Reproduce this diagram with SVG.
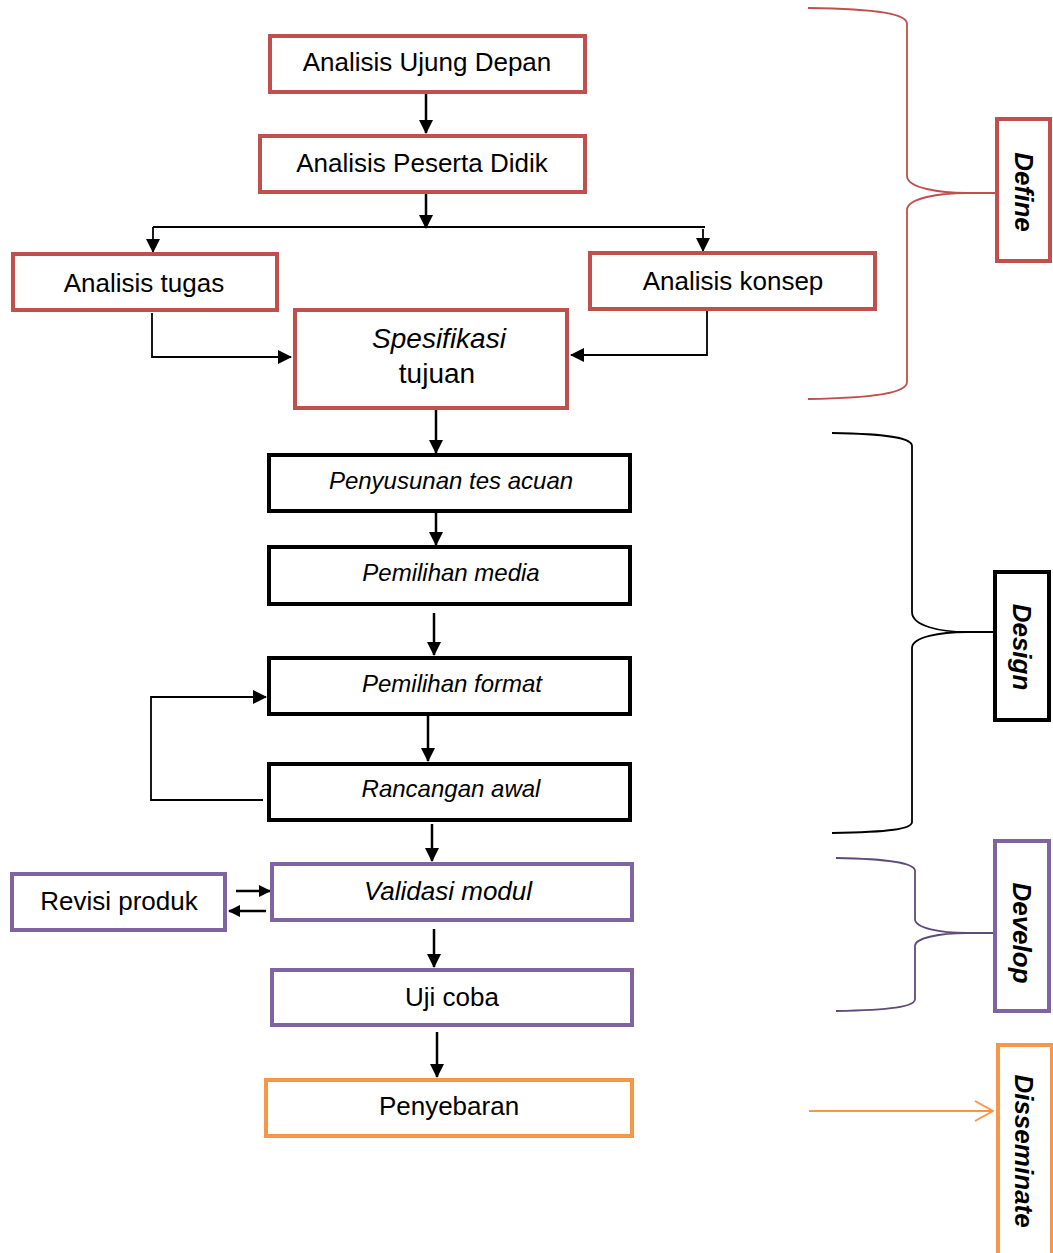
<svg xmlns="http://www.w3.org/2000/svg" width="1053" height="1253" viewBox="0 0 1053 1253">
<defs>
<style>
.box{fill:#fff;stroke-width:4}
.red{stroke:#C0504D}
.blk{stroke:#000}
.pur{stroke:#8064A2}
.org{stroke:#F79646}
.t{font-family:"Liberation Sans",Arial,sans-serif;fill:#000;text-anchor:middle}
.r25{font-size:26px}
.i23{font-size:24px;font-style:italic}
.i25{font-size:26px;font-style:italic}
.side{font-size:26px;font-weight:bold;font-style:italic}
.ln{fill:none;stroke:#000;stroke-width:2.5}
.thin{fill:none;stroke:#000;stroke-width:1.8}
.br{fill:none;stroke-width:1.8}
</style>
<marker id="ah" viewBox="0 0 14 14" markerWidth="14" markerHeight="14" markerUnits="userSpaceOnUse" refX="13" refY="7" orient="auto">
<path d="M0,0 L14,7 L0,14 z" fill="#000"/>
</marker>
<marker id="ahs" viewBox="0 0 12 12" markerWidth="12" markerHeight="12" markerUnits="userSpaceOnUse" refX="11" refY="6" orient="auto">
<path d="M0,0 L12,6 L0,12 z" fill="#000"/>
</marker>
<marker id="open" viewBox="0 0 20 22" markerWidth="20" markerHeight="22" markerUnits="userSpaceOnUse" refX="19" refY="11" orient="auto">
<path d="M1,1 L19,11 L1,21" fill="none" stroke="#F79646" stroke-width="2"/>
</marker>
</defs>

<g id="connectors">
<line class="ln" x1="426" y1="94" x2="426" y2="133" marker-end="url(#ah)"/>
<line class="ln" x1="426" y1="194" x2="426" y2="228" marker-end="url(#ah)"/>
<line class="thin" x1="153" y1="227" x2="705" y2="227"/>
<line class="thin" x1="153" y1="227" x2="153" y2="252" marker-end="url(#ah)"/>
<line class="thin" x1="703" y1="229" x2="703" y2="251" marker-end="url(#ah)"/>
<path class="thin" d="M152,313 L152,357 L291,357" marker-end="url(#ah)"/>
<path class="thin" d="M707,311 L707,355 L571,355" marker-end="url(#ah)"/>
<line class="ln" x1="436" y1="410" x2="436" y2="453" marker-end="url(#ah)"/>
<line class="ln" x1="436" y1="513" x2="436" y2="545" marker-end="url(#ah)"/>
<line class="ln" x1="434" y1="613" x2="434" y2="655" marker-end="url(#ah)"/>
<line class="ln" x1="428" y1="716" x2="428" y2="761" marker-end="url(#ah)"/>
<path class="thin" d="M263,800 L151,800 L151,697 L266,697" marker-end="url(#ah)"/>
<line class="ln" x1="432" y1="824" x2="432" y2="861" marker-end="url(#ah)"/>
<line class="ln" x1="236" y1="891" x2="270" y2="891" marker-end="url(#ahs)"/>
<line class="ln" x1="266" y1="911" x2="229" y2="911" marker-end="url(#ahs)"/>
<line class="ln" x1="434" y1="929" x2="434" y2="967" marker-end="url(#ah)"/>
<line class="ln" x1="437" y1="1032" x2="437" y2="1077" marker-end="url(#ah)"/>
<line x1="809" y1="1111" x2="993" y2="1111" stroke="#F79646" stroke-width="2" marker-end="url(#open)"/>
<path class="br" stroke="#C0504D" d="M808,8 C880,9 907,14 907,24 L907,176 C907,188 940,193 967,193 L1007,193 M967,193 C940,193 907,198 907,210 L907,382 C907,392 880,398 808,399"/>
<path class="br" stroke="#000" d="M832,433 C890,434 912,438 912,446 L912,612 C912,626 940,632 967,632 L995,632 M967,632 C940,632 912,637 912,648 L912,822 C912,829 890,832 832,833"/>
<path class="br" stroke="#604A7B" d="M836,858 C890,859 915,863 915,871 L915,919 C915,928 940,933 967,933 L995,933 M967,933 C940,933 915,938 915,946 L915,999 C915,1007 890,1010 836,1011"/>
</g>

<g id="n1"><rect class="box red" x="270" y="36" width="315" height="56"/><text class="t r25" x="427" y="71">Analisis Ujung Depan</text></g>
<g id="n2"><rect class="box red" x="260" y="136" width="325" height="56"/><text class="t r25" x="422" y="172">Analisis Peserta Didik</text></g>
<g id="n3"><rect class="box red" x="13" y="254" width="264" height="56"/><text class="t r25" x="144" y="292">Analisis tugas</text></g>
<g id="n4"><rect class="box red" x="590" y="253" width="285" height="56"/><text class="t r25" x="733" y="290">Analisis konsep</text></g>
<g id="n5"><rect class="box red" x="295" y="310" width="272" height="98"/><text class="t" x="439" y="348" font-size="28" font-style="italic">Spesifikasi</text><text class="t" x="437" y="383" font-size="28">tujuan</text></g>

<g id="n6"><rect class="box blk" x="269" y="455" width="361" height="56"/><text class="t i23" x="451" y="489">Penyusunan tes acuan</text></g>
<g id="n7"><rect class="box blk" x="269" y="547" width="361" height="57"/><text class="t i23" x="451" y="581">Pemilihan media</text></g>
<g id="n8"><rect class="box blk" x="269" y="658" width="361" height="56"/><text class="t i23" x="452" y="692">Pemilihan format</text></g>
<g id="n9"><rect class="box blk" x="269" y="764" width="361" height="56"/><text class="t i23" x="451" y="797">Rancangan awal</text></g>

<g id="n10"><rect class="box pur" x="272" y="864" width="360" height="56"/><text class="t i25" x="448" y="900">Validasi modul</text></g>
<g id="n11"><rect class="box pur" x="12" y="874" width="213" height="56"/><text class="t r25" x="119" y="910">Revisi produk</text></g>
<g id="n12"><rect class="box pur" x="272" y="970" width="360" height="55"/><text class="t r25" x="452" y="1006">Uji coba</text></g>
<g id="n13"><rect class="box org" x="266" y="1080" width="366" height="56"/><text class="t r25" x="449" y="1115">Penyebaran</text></g>

<g id="define"><rect class="box red" x="997" y="119" width="53" height="142"/><text class="t side" transform="translate(1024,192) rotate(90)" x="0" y="9">Define</text></g>
<g id="design"><rect class="box blk" x="995" y="572" width="54" height="148"/><text class="t side" transform="translate(1022,647) rotate(90)" x="0" y="9">Design</text></g>
<g id="develop"><rect class="box pur" x="995" y="841" width="54" height="170"/><text class="t side" transform="translate(1022,933) rotate(90)" x="0" y="9">Develop</text></g>
<g id="disseminate"><rect class="box org" x="998" y="1045" width="54" height="215"/><text class="t side" transform="translate(1024,1151) rotate(90)" x="0" y="9">Disseminate</text></g>
</svg>
